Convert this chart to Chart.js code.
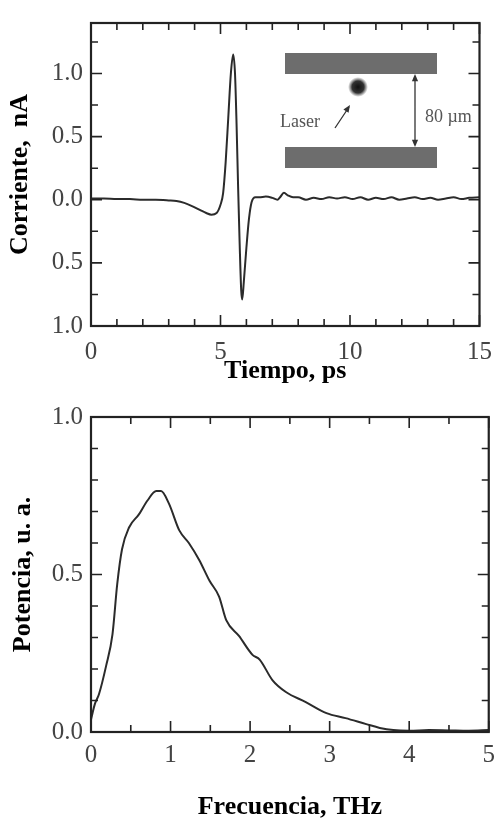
<!DOCTYPE html>
<html>
<head>
<meta charset="utf-8">
<script src="https://cdn.jsdelivr.net/npm/chart.js@4.4.1/dist/chart.umd.min.js"></script>
<style>
  html, body { margin: 0; padding: 0; background: #fff; }
  #wrap { position: relative; width: 503px; height: 818px; }
  .box { position: absolute; left: 0; width: 503px; }
  #top { top: 0; height: 390px; }
  #bottom { top: 390px; height: 428px; }
</style>
</head>
<body>
<div id="wrap">
  <div class="box" id="top"><canvas id="currentChart" width="503" height="390"></canvas></div>
  <div class="box" id="bottom"><canvas id="powerChart" width="503" height="428"></canvas></div>
</div>
<script>
// Current pulse (upper panel)
const tiempo = [0, 0.5, 1, 1.5, 2, 2.5, 3, 3.3, 3.6, 3.9, 4.2, 4.45, 4.65, 4.85, 5.0, 5.1, 5.2, 5.3, 5.4, 5.49,
  5.56, 5.62, 5.68, 5.74, 5.8, 5.84, 5.9, 6.0, 6.1, 6.2, 6.35, 6.5, 6.75, 7.0, 7.2, 7.3, 7.45, 7.6, 7.8, 8.0,
  8.3, 8.6, 8.9, 9.2, 9.5, 9.8, 10.1, 10.4, 10.7, 11.0, 11.3, 11.6, 11.9, 12.2, 12.5, 12.8, 13.1, 13.4, 13.7,
  14.0, 14.3, 14.6, 15];
const corriente = [0.01, 0.01, 0.005, 0.005, 0, 0, -0.005, -0.01, -0.025, -0.05, -0.08, -0.105, -0.118, -0.105, -0.04, 0.05, 0.3, 0.65, 1.0, 1.15,
  1.0, 0.6, 0.1, -0.35, -0.72, -0.79, -0.65, -0.38, -0.15, -0.02, 0.02, 0.02, 0.025, 0.015, 0, 0.02, 0.055, 0.035, 0.02, 0.02,
  0, 0.015, 0.005, 0.02, 0.01, 0.02, 0.005, 0.02, 0, 0.015, 0.005, 0.02, 0, 0.01, 0.02, 0.005, 0.015, 0, 0.01,
  0.02, 0.005, 0.015, 0.02];
const tiempoLabels = [0, 5, 10, 15];
const corrienteLabels = [-1, -0.5, 0, 0.5, 1];

// Power spectrum (lower panel)
const frecuencia = [0, 0.05, 0.1, 0.19, 0.27, 0.33, 0.39, 0.48, 0.6, 0.71, 0.82, 0.88, 0.98, 1.11, 1.23, 1.36, 1.49,
  1.61, 1.7, 1.86, 2.03, 2.12, 2.28, 2.45, 2.7, 2.96, 3.2, 3.46, 3.63, 3.8, 4.0, 4.25, 4.5, 4.75, 5.0];
const potencia = [0.04, 0.09, 0.12, 0.21, 0.31, 0.47, 0.58, 0.65, 0.69, 0.735, 0.765, 0.765, 0.725, 0.64, 0.6, 0.546, 0.48,
  0.43, 0.355, 0.305, 0.245, 0.23, 0.165, 0.127, 0.095, 0.06, 0.044, 0.025, 0.013, 0.006, 0.004, 0.006, 0.005, 0.004, 0.006];
const frecuenciaLabels = [0, 1, 2, 3, 4, 5];
const potenciaLabels = [0, 0.5, 1];

const serif = "'Liberation Serif', 'Times New Roman', serif";

function inList(v, list) {
    return list.some(l => Math.abs(l - v) < 1e-6);
}

// frame around the plot + inward ticks on all four sides
const frameTicks = {
    id: 'frameTicks',
    afterDraw(chart) {
        const { ctx, chartArea: a, scales: { x, y } } = chart;
        const xMajor = chart.options.plugins.frameTicks.xMajor;
        const yMajor = chart.options.plugins.frameTicks.yMajor;
        ctx.save();
        ctx.strokeStyle = '#222';
        ctx.lineWidth = 1.6;
        ctx.beginPath();
        x.ticks.forEach(t => {
            const px = x.getPixelForValue(t.value);
            const len = inList(t.value, xMajor) ? 11 : 7;
            ctx.moveTo(px, a.bottom); ctx.lineTo(px, a.bottom - len);
            ctx.moveTo(px, a.top); ctx.lineTo(px, a.top + len);
        });
        y.ticks.forEach(t => {
            const py = y.getPixelForValue(t.value);
            const len = inList(t.value, yMajor) ? 11 : 7;
            ctx.moveTo(a.left, py); ctx.lineTo(a.left + len, py);
            ctx.moveTo(a.right, py); ctx.lineTo(a.right - len, py);
        });
        ctx.stroke();
        ctx.lineWidth = 2.2;
        ctx.strokeRect(a.left, a.top, a.right - a.left, a.bottom - a.top);
        ctx.restore();
    }
};

function arrowHead(ctx, x1, y1, x2, y2, size) {
    const ang = Math.atan2(y2 - y1, x2 - x1);
    ctx.beginPath();
    ctx.moveTo(x2, y2);
    ctx.lineTo(x2 - size * Math.cos(ang - 0.4), y2 - size * Math.sin(ang - 0.4));
    ctx.lineTo(x2 - size * Math.cos(ang + 0.4), y2 - size * Math.sin(ang + 0.4));
    ctx.closePath();
    ctx.fill();
}

// sketch of the electrodes in the upper right corner
const insetSketch = {
    id: 'insetSketch',
    afterDatasetsDraw(chart) {
        const { ctx, chartArea: a } = chart;
        const L = a.left, T = a.top;
        ctx.save();
        ctx.fillStyle = '#6d6d6d';
        ctx.fillRect(L + 194, T + 30, 152, 21);
        ctx.fillRect(L + 194, T + 124, 152, 21);

        const cx = L + 267, cy = T + 64;
        const g = ctx.createRadialGradient(cx, cy, 0, cx, cy, 10);
        g.addColorStop(0, '#111');
        g.addColorStop(0.6, '#333');
        g.addColorStop(1, 'rgba(90,90,90,0)');
        ctx.fillStyle = g;
        ctx.beginPath();
        ctx.arc(cx, cy, 10, 0, 2 * Math.PI);
        ctx.fill();

        ctx.strokeStyle = '#333';
        ctx.fillStyle = '#333';
        ctx.lineWidth = 1.3;
        ctx.beginPath();
        ctx.moveTo(L + 244, T + 105); ctx.lineTo(L + 258, T + 84);
        ctx.moveTo(L + 324, T + 54); ctx.lineTo(L + 324, T + 121);
        ctx.stroke();
        arrowHead(ctx, L + 244, T + 105, L + 259, T + 82, 8);
        arrowHead(ctx, L + 324, T + 80, L + 324, T + 51, 8);
        arrowHead(ctx, L + 324, T + 90, L + 324, T + 124, 8);

        ctx.fillStyle = '#555';
        ctx.font = '18px ' + serif;
        ctx.textBaseline = 'middle';
        ctx.textAlign = 'left';
        ctx.fillText('Laser', L + 189, T + 99);
        ctx.fillText('80 µm', L + 334, T + 94);
        ctx.restore();
    }
};

const tickFont = { family: serif, size: 25 };
const titleFont = { family: serif, size: 26, weight: 'bold', lineHeight: 1.2 };

function lineDataset(xs, ys) {
    return {
        data: xs.map((v, i) => ({ x: v, y: ys[i] })),
        borderColor: '#2b2b2b',
        borderWidth: 2,
        pointRadius: 0,
        fill: false,
        cubicInterpolationMode: 'monotone'
    };
}

new Chart(document.getElementById('currentChart'), {
    type: 'line',
    data: { datasets: [lineDataset(tiempo, corriente)] },
    plugins: [insetSketch, frameTicks],
    options: {
        responsive: false,
        animation: false,
        layout: { padding: { top: 13, right: 15, left: 0, bottom: 0 } },
        plugins: {
            legend: { display: false },
            tooltip: { enabled: false },
            frameTicks: { xMajor: tiempoLabels, yMajor: corrienteLabels }
        },
        scales: {
            x: {
                type: 'linear', min: 0, max: 15,
                grid: { display: false, drawTicks: false },
                border: { display: false },
                ticks: {
                    stepSize: 1, autoSkip: false, maxRotation: 0, padding: 11,
                    color: '#444', font: tickFont,
                    callback: v => inList(v, tiempoLabels) ? String(v) : ''
                },
                title: { display: true, text: 'Tiempo, ps', color: '#000', font: titleFont, padding: { top: 0, bottom: 3 } },
                afterFit: s => { s.height = 64; }
            },
            y: {
                type: 'linear', min: -1, max: 1.4,
                grid: { display: false, drawTicks: false },
                border: { display: false },
                ticks: {
                    stepSize: 0.25, includeBounds: false, autoSkip: false, padding: 8,
                    color: '#444', font: tickFont,
                    callback: v => inList(v, corrienteLabels) ? Math.abs(v).toFixed(1) : ''
                },
                title: { display: true, text: 'Corriente,  nA', color: '#000', font: titleFont, padding: { top: 5, bottom: 0 } },
                afterFit: s => { s.width = 91; }
            }
        }
    }
});

new Chart(document.getElementById('powerChart'), {
    type: 'line',
    data: { datasets: [lineDataset(frecuencia, potencia)] },
    plugins: [frameTicks],
    options: {
        responsive: false,
        animation: false,
        layout: { padding: { top: 27, right: 14, left: 0, bottom: 0 } },
        plugins: {
            legend: { display: false },
            tooltip: { enabled: false },
            frameTicks: { xMajor: frecuenciaLabels, yMajor: potenciaLabels }
        },
        scales: {
            x: {
                type: 'linear', min: 0, max: 5,
                grid: { display: false, drawTicks: false },
                border: { display: false },
                ticks: {
                    stepSize: 0.5, autoSkip: false, maxRotation: 0, padding: 8,
                    color: '#444', font: tickFont,
                    callback: v => inList(v, frecuenciaLabels) ? String(v) : ''
                },
                title: { display: true, text: 'Frecuencia, THz', color: '#000', font: { family: serif, size: 26, weight: 'bold', lineHeight: 0.8 }, padding: { top: 0, bottom: 0 } },
                afterFit: s => { s.height = 86; }
            },
            y: {
                type: 'linear', min: 0, max: 1,
                grid: { display: false, drawTicks: false },
                border: { display: false },
                ticks: {
                    stepSize: 0.1, autoSkip: false, padding: 8,
                    color: '#444', font: tickFont,
                    callback: v => inList(v, potenciaLabels) ? v.toFixed(1) : ''
                },
                title: { display: true, text: 'Potencia, u. a.', color: '#000', font: titleFont, padding: { top: 8, bottom: 0 } },
                afterFit: s => { s.width = 91; }
            }
        }
    }
});
</script>
</body>
</html>
